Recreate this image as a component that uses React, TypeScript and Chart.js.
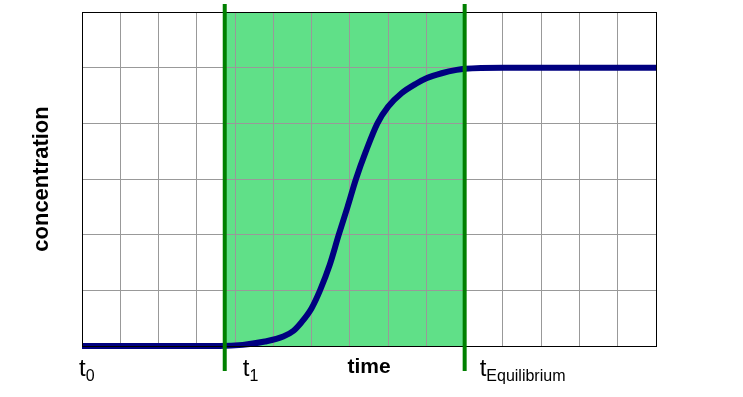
import React, { useEffect, useRef } from "react";
import { Chart, registerables } from "chart.js";

Chart.register(...registerables);

// time (grid units) and concentration (grid units)
const timeValues = [0, 1, 2, 3, 3.6, 4.2, 4.78, 5.26, 5.52, 5.74, 6.0, 6.22, 6.47, 6.71, 6.94, 7.16, 7.42, 7.72, 8.0, 8.35, 8.75, 9.0, 9.4, 9.79, 10.0, 11, 12, 13, 14, 15];
const concentrationValues = [0, 0, 0, 0, 0, 0.02, 0.08, 0.17, 0.27, 0.43, 0.68, 1.0, 1.45, 2.0, 2.5, 3.0, 3.5, 4.0, 4.3, 4.54, 4.72, 4.81, 4.9, 4.96, 4.98, 5.0, 5.0, 5.0, 5.0, 5.0];

const xMin = 0;
const xMax = 15;
const yMin = 0;
const yMax = 6;
const tZero = 0;
const tOne = 3.73;
const tEquilibrium = 10;

const xAxisTitle = "time";
const yAxisTitle = "concentration";
const markerLabels = [
  { base: "t", sub: "0", at: tZero },
  { base: "t", sub: "1", at: tOne },
  { base: "t", sub: "Equilibrium", at: tEquilibrium },
];

const FONT = "'Liberation Sans', Arial, sans-serif";

const decorPlugin = {
  id: "decor",
  beforeDraw(chart: any) {
    const { ctx, chartArea, scales } = chart;
    const x1 = scales.x.getPixelForValue(tOne);
    const x2 = scales.x.getPixelForValue(tEquilibrium);
    ctx.save();
    ctx.fillStyle = "#60E088";
    ctx.fillRect(x1, chartArea.top, x2 - x1, chartArea.bottom - chartArea.top);
    ctx.restore();
  },
  afterDatasetsDraw(chart: any) {
    const { ctx, chartArea, scales } = chart;
    ctx.save();
    // plot frame
    ctx.strokeStyle = "#000000";
    ctx.lineWidth = 1;
    ctx.strokeRect(
      Math.round(chartArea.left) + 0.5,
      Math.round(chartArea.top) + 0.5,
      Math.round(chartArea.right - chartArea.left),
      Math.round(chartArea.bottom - chartArea.top)
    );
    // vertical markers
    ctx.strokeStyle = "#008000";
    ctx.lineWidth = 4;
    [tOne, tEquilibrium].forEach((v) => {
      const px = scales.x.getPixelForValue(v);
      ctx.beginPath();
      ctx.moveTo(px, chartArea.top - 8);
      ctx.lineTo(px, chartArea.bottom + 25);
      ctx.stroke();
    });
    // marker labels
    ctx.fillStyle = "#000000";
    ctx.textBaseline = "alphabetic";
    ctx.textAlign = "left";
    const offsets = [-3, 18, 15];
    markerLabels.forEach((m, i) => {
      const px = scales.x.getPixelForValue(m.at) + offsets[i];
      ctx.font = `24px ${FONT}`;
      ctx.fillText(m.base, px, chartArea.bottom + 30);
      const w = ctx.measureText(m.base).width;
      ctx.font = `16px ${FONT}`;
      ctx.fillText(m.sub, px + w, chartArea.bottom + 35);
    });
    // axis titles
    ctx.font = `bold 21px ${FONT}`;
    ctx.textAlign = "center";
    ctx.fillText(xAxisTitle, (chartArea.left + chartArea.right) / 2, chartArea.bottom + 27);
    ctx.translate(48, (chartArea.top + chartArea.bottom) / 2);
    ctx.rotate(-Math.PI / 2);
    ctx.font = `bold 22px ${FONT}`;
    ctx.fillText(yAxisTitle, 0, 0);
    ctx.restore();
  },
};

export default function App() {
  const ref = useRef<HTMLCanvasElement | null>(null);
  useEffect(() => {
    const chart = new Chart(ref.current as HTMLCanvasElement, {
      type: "line",
      data: {
        datasets: [
          {
            data: timeValues.map((t, i) => ({ x: t, y: concentrationValues[i] })),
            borderColor: "#000080",
            borderWidth: 6,
            pointRadius: 0,
            cubicInterpolationMode: "monotone",
            clip: false as any,
          },
        ],
      },
      options: {
        responsive: false,
        animation: false,
        layout: { padding: { left: 82, top: 12, right: 87, bottom: 51 } },
        plugins: { legend: { display: false }, tooltip: { enabled: false } },
        scales: {
          x: {
            type: "linear",
            min: xMin,
            max: xMax,
            ticks: { display: false, stepSize: 1 },
            grid: { color: "#999999", lineWidth: 1, drawTicks: false },
            border: { display: false },
          },
          y: {
            min: yMin,
            max: yMax,
            ticks: { display: false, stepSize: 1 },
            grid: { color: "#999999", lineWidth: 1, drawTicks: false },
            border: { display: false },
          },
        },
      },
      plugins: [decorPlugin],
    });
    return () => chart.destroy();
  }, []);
  return (
    <div style={{ position: "fixed", left: 0, top: 0, width: 743, height: 397, background: "#fff" }}>
      <canvas ref={ref} width={743} height={397} />
    </div>
  );
}
